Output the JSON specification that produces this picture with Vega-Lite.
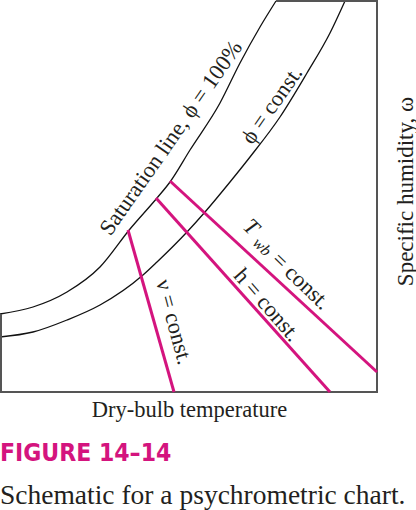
{
  "$schema": "https://vega.github.io/schema/vega-lite/v6.json",
  "width": 378,
  "height": 392,
  "autosize": "none",
  "padding": {"left": 0, "top": 0, "right": 38, "bottom": 118},
  "background": "white",
  "config": {"view": {"stroke": null}},
  "title": {
    "text": "FIGURE 14–14",
    "subtitle": "Schematic for a psychrometric chart.",
    "orient": "bottom",
    "anchor": "start",
    "frame": "group",
    "font": "'Liberation Sans Narrow', 'DejaVu Sans Condensed', 'Arial Narrow', Roboto, sans-serif",
    "fontWeight": "bold",
    "fontSize": 24.5,
    "color": "#d4147e",
    "subtitleFont": "Liberation Serif",
    "subtitleFontSize": 27.5,
    "subtitleColor": "#231f20",
    "subtitlePadding": 16,
    "offset": 21
  },
  "datasets": {
    "curves": [
      {"curve": "saturation", "t": 0, "w": 78},
      {"curve": "saturation", "t": 33, "w": 85},
      {"curve": "saturation", "t": 67, "w": 100},
      {"curve": "saturation", "t": 100, "w": 125},
      {"curve": "saturation", "t": 130, "w": 163},
      {"curve": "saturation", "t": 157, "w": 194},
      {"curve": "saturation", "t": 170, "w": 210},
      {"curve": "saturation", "t": 190, "w": 242},
      {"curve": "saturation", "t": 220, "w": 289},
      {"curve": "saturation", "t": 240, "w": 329},
      {"curve": "saturation", "t": 260, "w": 365},
      {"curve": "saturation", "t": 276, "w": 391},
      {"curve": "phi", "t": 0, "w": 55},
      {"curve": "phi", "t": 33, "w": 60},
      {"curve": "phi", "t": 67, "w": 72},
      {"curve": "phi", "t": 100, "w": 87},
      {"curve": "phi", "t": 143, "w": 117},
      {"curve": "phi", "t": 157, "w": 130},
      {"curve": "phi", "t": 187, "w": 160},
      {"curve": "phi", "t": 205, "w": 180},
      {"curve": "phi", "t": 230, "w": 210},
      {"curve": "phi", "t": 250, "w": 235},
      {"curve": "phi", "t": 280, "w": 275},
      {"curve": "phi", "t": 307, "w": 319},
      {"curve": "phi", "t": 330, "w": 359},
      {"curve": "phi", "t": 345, "w": 391}
    ],
    "box": [
      {"seq": 1, "t": 1, "w": 78},
      {"seq": 2, "t": 1, "w": 0},
      {"seq": 3, "t": 377, "w": 0},
      {"seq": 4, "t": 377, "w": 391},
      {"seq": 5, "t": 276, "w": 391}
    ],
    "props": [
      {"prop": "v", "t": 128, "w": 162},
      {"prop": "v", "t": 174, "w": 0},
      {"prop": "h", "t": 156, "w": 194},
      {"prop": "h", "t": 330, "w": 0},
      {"prop": "Twb", "t": 170, "w": 211},
      {"prop": "Twb", "t": 377, "w": 20}
    ],
    "lab_sat": [{"label": "Saturation line, ϕ = 100%", "t": 171, "w": 254}],
    "lab_phi": [{"label": "ϕ = const.", "t": 272, "w": 287}],
    "lab_T": [{"label": "T", "t": 251, "w": 165}],
    "lab_wb": [{"label": "wb", "t": 262, "w": 145}],
    "lab_Tc": [{"label": "= const.", "t": 301, "w": 111}],
    "lab_h": [{"label": "h = const.", "t": 267, "w": 87}],
    "lab_v": [{"label": "ν = const.", "t": 174, "w": 70}]
  },
  "encoding": {
    "x": {"field": "t", "type": "quantitative", "scale": {"domain": [0, 378], "nice": false, "zero": false},
      "axis": {"orient": "bottom", "title": "Dry-bulb temperature", "domain": false, "ticks": false, "labels": false, "grid": false,
        "titleFont": "Liberation Serif", "titleFontSize": 22.5, "titleFontWeight": "normal", "titleColor": "#231f20", "titlePadding": 6}},
    "y": {"field": "w", "type": "quantitative", "scale": {"domain": [0, 392], "nice": false, "zero": false},
      "axis": {"orient": "right", "title": "Specific humidity, ω", "domain": false, "ticks": false, "labels": false, "grid": false,
        "titleFont": "Liberation Serif", "titleFontSize": 23, "titleFontWeight": "normal", "titleColor": "#231f20",
        "titleAngle": -90, "titleAlign": "center", "titleBaseline": "middle", "titleX": 27, "titleY": 191}}
  },
  "layer": [
    {
      "data": {"name": "curves"},
      "mark": {"type": "line", "color": "#111111", "strokeWidth": 1.3, "interpolate": "monotone"},
      "encoding": {"detail": {"field": "curve"}}
    },
    {
      "data": {"name": "box"},
      "mark": {"type": "line", "color": "#555555", "strokeWidth": 2},
      "encoding": {"order": {"field": "seq"}}
    },
    {
      "data": {"name": "props"},
      "mark": {"type": "line", "color": "#d4147e", "strokeWidth": 3},
      "encoding": {"detail": {"field": "prop"}}
    },
    {
      "data": {"name": "lab_sat"},
      "mark": {"type": "text", "angle": -55, "font": "Liberation Serif", "fontSize": 22.5, "color": "#231f20", "align": "center", "baseline": "middle"},
      "encoding": {"text": {"field": "label"}}
    },
    {
      "data": {"name": "lab_phi"},
      "mark": {"type": "text", "angle": -55, "font": "Liberation Serif", "fontSize": 22.5, "color": "#231f20", "align": "center", "baseline": "middle"},
      "encoding": {"text": {"field": "label"}}
    },
    {
      "data": {"name": "lab_T"},
      "mark": {"type": "text", "angle": 44, "font": "Liberation Serif", "fontStyle": "italic", "fontSize": 22.5, "color": "#231f20", "align": "center", "baseline": "middle"},
      "encoding": {"text": {"field": "label"}}
    },
    {
      "data": {"name": "lab_wb"},
      "mark": {"type": "text", "angle": 44, "font": "Liberation Serif", "fontStyle": "italic", "fontSize": 16, "color": "#231f20", "align": "center", "baseline": "middle"},
      "encoding": {"text": {"field": "label"}}
    },
    {
      "data": {"name": "lab_Tc"},
      "mark": {"type": "text", "angle": 44, "font": "Liberation Serif", "fontSize": 22.5, "color": "#231f20", "align": "center", "baseline": "middle"},
      "encoding": {"text": {"field": "label"}}
    },
    {
      "data": {"name": "lab_h"},
      "mark": {"type": "text", "angle": 49, "font": "Liberation Serif", "fontSize": 22.5, "color": "#231f20", "align": "center", "baseline": "middle"},
      "encoding": {"text": {"field": "label"}}
    },
    {
      "data": {"name": "lab_v"},
      "mark": {"type": "text", "angle": 75, "font": "Liberation Serif", "fontSize": 22.5, "color": "#231f20", "align": "center", "baseline": "middle"},
      "encoding": {"text": {"field": "label"}}
    }
  ]
}
